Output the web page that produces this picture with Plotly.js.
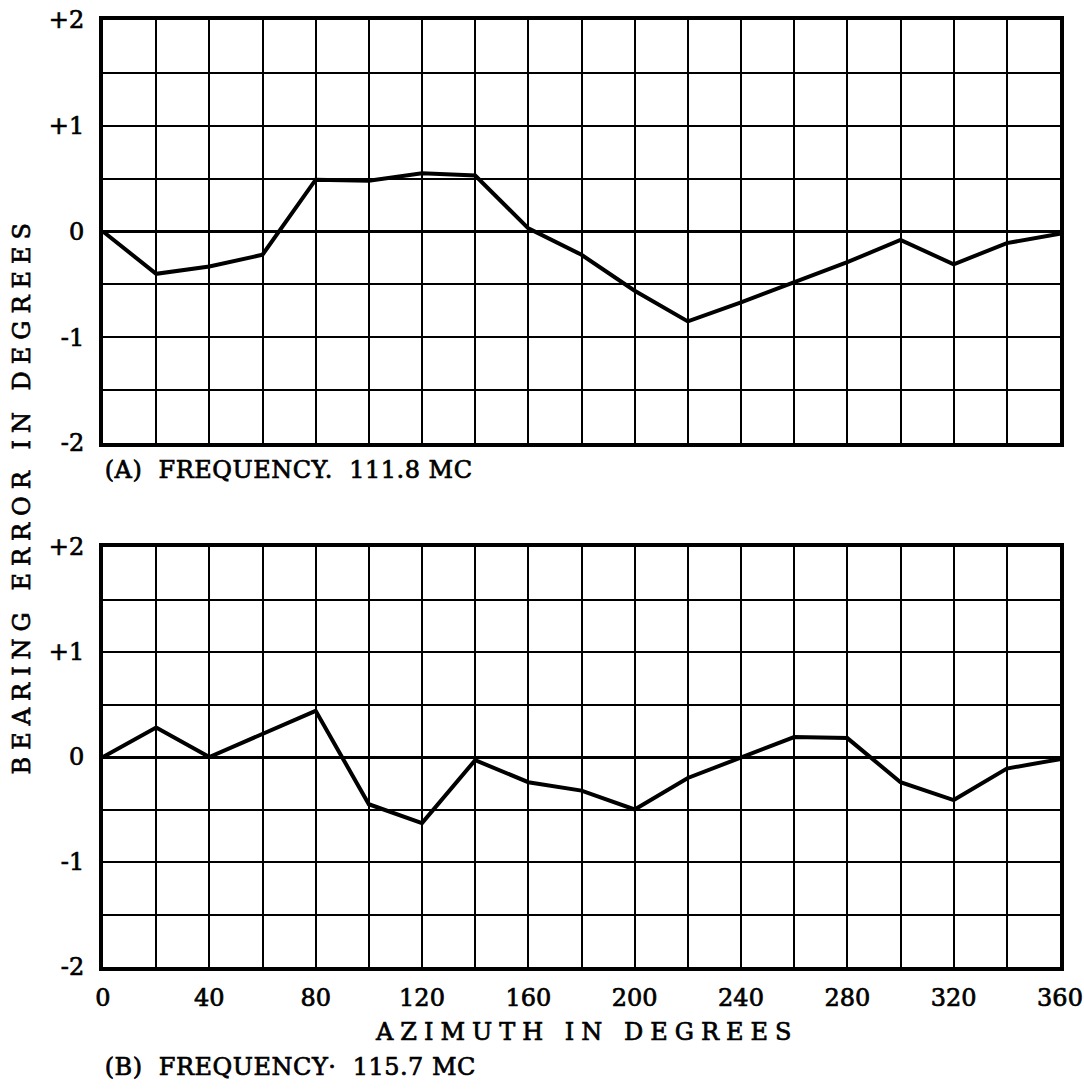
<!DOCTYPE html>
<html>
<head>
<meta charset="utf-8">
<script src="https://cdn.plot.ly/plotly-3.0.1.min.js"></script>
<style>
  html, body { margin: 0; padding: 0; background: #fff; }
  #chart { width: 1084px; height: 1092px; }
  g.annotation[data-index="0"] text { letter-spacing: 7px; }
  g.annotation[data-index="1"] text { letter-spacing: 7px; }
  g.annotation[data-index="2"] text { letter-spacing: 0.5px; }
  g.annotation[data-index="3"] text { letter-spacing: 0.5px; }
  g.annotation text, g.xtick text, g.x2tick text, g.ytick text, g.y2tick text {
    stroke: #000; stroke-width: 0.7px;
  }
</style>
</head>
<body>
<div id="chart"></div>
<script>
// Azimuth (degrees)
const azimuth = [0, 20, 40, 60, 80, 100, 120, 140, 160, 180, 200, 220, 240, 260, 280, 300, 320, 340, 360];
// (A) Frequency 111.8 MC - bearing error (degrees)
const errorA = [0.0, -0.40, -0.33, -0.22, 0.49, 0.48, 0.55, 0.53, 0.03, -0.22, -0.56, -0.85, -0.67, -0.48, -0.29, -0.08, -0.31, -0.11, -0.02];
// (B) Frequency 115.7 MC - bearing error (degrees)
const errorB = [0.0, 0.28, 0.0, 0.22, 0.44, -0.45, -0.63, -0.03, -0.24, -0.32, -0.50, -0.20, -0.01, 0.19, 0.18, -0.24, -0.41, -0.11, -0.02];
// Tick labels
const xTickVals = [0, 40, 80, 120, 160, 200, 240, 280, 320, 360];
const xTickText = ["0", "40", "80", "120", "160", "200", "240", "280", "320", "360"];
const yTickVals = [2, 1, 0, -1, -2];
const yTickText = ["+2", "+1", "0", "-1", "-2"];
// Texts
const yTitle = "BEARING ERROR IN DEGREES";
const xTitle = "AZIMUTH IN DEGREES";
const captionA = "(A)\u00A0 FREQUENCY.\u00A0 111.8 MC";
const captionB = "(B)\u00A0 FREQUENCY\u00B7\u00A0 115.7 MC";

const FONT = "'DejaVu Serif', serif";

function xAxis(showLabels, anchor) {
  return {
    range: [0, 360],
    anchor: anchor,
    tickmode: "array",
    tickvals: xTickVals,
    ticktext: xTickText,
    showticklabels: showLabels,
    ticks: "",
    ticklabelstandoff: 6,
    tickfont: { family: FONT, size: 24, color: "#000" },
    showgrid: true,
    gridcolor: "#000",
    gridwidth: 2,
    minor: { dtick: 20, tick0: 0, showgrid: true, gridcolor: "#000", gridwidth: 2, ticks: "" },
    showline: true,
    linecolor: "#000",
    linewidth: 4,
    mirror: true,
    zeroline: false,
    fixedrange: true
  };
}
function yAxis(domain, anchor) {
  return {
    range: [-2, 2],
    domain: domain,
    anchor: anchor,
    tickmode: "array",
    tickvals: yTickVals,
    ticktext: yTickText,
    ticks: "",
    ticklabelstandoff: 10,
    tickfont: { family: FONT, size: 24, color: "#000" },
    showgrid: true,
    gridcolor: "#000",
    gridwidth: 2,
    minor: { dtick: 0.5, tick0: 0, showgrid: true, gridcolor: "#000", gridwidth: 2, ticks: "" },
    showline: true,
    linecolor: "#000",
    linewidth: 4,
    mirror: true,
    zeroline: true,
    zerolinecolor: "#000",
    zerolinewidth: 3,
    fixedrange: true
  };
}

const traces = [
  { x: azimuth, y: errorA, xaxis: "x", yaxis: "y", mode: "lines",
    line: { color: "#000", width: 4 }, hoverinfo: "skip", showlegend: false },
  { x: azimuth, y: errorB, xaxis: "x2", yaxis: "y2", mode: "lines",
    line: { color: "#000", width: 4 }, hoverinfo: "skip", showlegend: false }
];

const layout = {
  width: 1084,
  height: 1092,
  margin: { l: 103, r: 24, t: 20, b: 125 },
  paper_bgcolor: "#fff",
  plot_bgcolor: "#fff",
  showlegend: false,
  xaxis: xAxis(false, "y"),
  yaxis: yAxis([0.5533, 1], "x"),
  xaxis2: xAxis(true, "y2"),
  yaxis2: yAxis([0, 0.4435], "x2"),
  annotations: [
    { text: yTitle, xref: "paper", yref: "paper", x: -0.0846, y: 0.498,
      textangle: -90, showarrow: false, xanchor: "center", yanchor: "middle",
      font: { family: FONT, size: 24, color: "#000" } },
    { text: xTitle, xref: "paper", yref: "paper", x: 0.505, y: -0.069,
      showarrow: false, xanchor: "center", yanchor: "middle",
      font: { family: FONT, size: 24, color: "#000" } },
    { text: captionA, xref: "paper", yref: "paper", x: 0.006, y: 0.525,
      showarrow: false, xanchor: "left", yanchor: "middle",
      font: { family: FONT, size: 24, color: "#000" } },
    { text: captionB, xref: "paper", yref: "paper", x: 0.006, y: -0.106,
      showarrow: false, xanchor: "left", yanchor: "middle",
      font: { family: FONT, size: 24, color: "#000" } }
  ]
};

Plotly.newPlot("chart", traces, layout, { displayModeBar: false, staticPlot: true });
</script>
</body>
</html>
